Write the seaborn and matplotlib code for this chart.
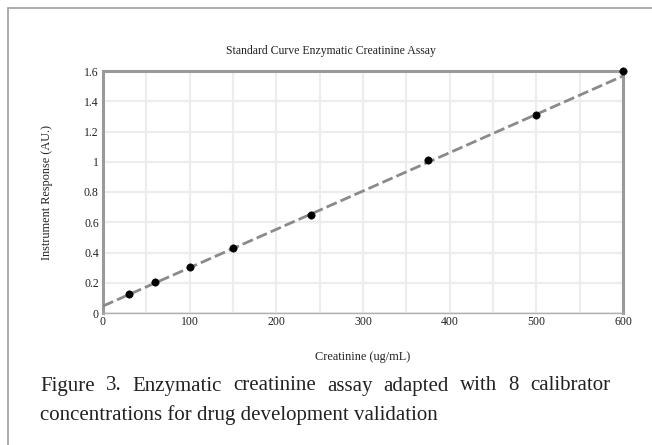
import numpy as np
import pandas as pd
import matplotlib
matplotlib.use("Agg")
import matplotlib.pyplot as plt
import seaborn as sns
from matplotlib.lines import Line2D
from matplotlib.ticker import MultipleLocator

# Data
concentration = [30, 60, 100, 150, 240, 375, 500, 600]
response = [0.125, 0.205, 0.305, 0.43, 0.645, 1.01, 1.31, 1.60]
fit_intercept = 0.046
fit_slope = 0.002535
x_ticks = [0, 100, 200, 300, 400, 500, 600]
y_ticks = [0, 0.2, 0.4, 0.6, 0.8, 1.0, 1.2, 1.4, 1.6]
y_tick_labels = ["0", "0.2", "0.4", "0.6", "0.8", "1", "1.2", "1.4", "1.6"]

df = pd.DataFrame({"x": concentration, "y": response})
fit_x = [0, 600]
fit_df = pd.DataFrame({"x": fit_x, "y": [fit_intercept + fit_slope * v for v in fit_x]})

sns.set_style("white")
plt.rcParams["font.family"] = ["Liberation Serif", "DejaVu Serif"]

W, H = 652, 445
fig = plt.figure(figsize=(W / 100, H / 100), dpi=100)
ax = fig.add_axes([103 / W, 1 - 313 / H, (623 - 103) / W, (313 - 71) / H])

sns.lineplot(data=fit_df, x="x", y="y", ax=ax, color="#8a8a8a", lw=2,
             linestyle=(0, (4, 1.5)), zorder=3)
sns.scatterplot(data=df, x="x", y="y", ax=ax, color="black", s=28,
                edgecolor="black", zorder=4, clip_on=False)

ax.set_xlim(0, 600)
ax.set_ylim(0, 1.6)
ax.set_xticks(x_ticks)
ax.set_yticks(y_ticks)
ax.set_yticklabels(y_tick_labels)
ax.xaxis.set_minor_locator(MultipleLocator(50))
ax.yaxis.set_minor_locator(MultipleLocator(0.2))
ax.grid(which="both", color="#ededed", lw=1.6)
ax.set_axisbelow(True)
ax.tick_params(axis="both", which="both", length=0, labelsize=8.5, colors="#222222")
ax.tick_params(axis="x", pad=2)
ax.tick_params(axis="y", pad=3)

for side in ["top", "right", "left"]:
    ax.spines[side].set_color("#9a9a9a")
    ax.spines[side].set_linewidth(2.2)
ax.spines["bottom"].set_color("#b0b0b0")
ax.spines["bottom"].set_linewidth(1.0)

ax.set_title("Standard Curve Enzymatic Creatinine Assay", fontsize=8.5, pad=12,
             color="#222222", x=(331 - 103) / 520)
ax.set_xlabel("Creatinine (ug/mL)", fontsize=8.8, labelpad=17, color="#222222")
ax.set_ylabel("Instrument Response (AU.)", fontsize=8.8, labelpad=22, color="#222222")

# Caption: first line justified between x=40 and x=610
cap_size = 15
line1 = "Figure 3. Enzymatic creatinine assay adapted with 8 calibrator".split(" ")
line2 = "concentrations for drug development validation"
renderer = fig.canvas.get_renderer()
word_artists = []
widths = []
for w in line1:
    t = fig.text(0, 1 - 386 / H, w, fontsize=cap_size, va="center", ha="left", color="#222222")
    bb = t.get_window_extent(renderer=renderer)
    word_artists.append(t)
    widths.append(bb.width)
x0, x1 = 40, 610
gap = (x1 - x0 - sum(widths)) / (len(line1) - 1)
xpos = x0
for t, wd in zip(word_artists, widths):
    t.set_x(xpos / W)
    xpos += wd + gap
fig.text(40 / W, 1 - 415 / H, line2, fontsize=cap_size, va="center", ha="left", color="#222222")

fig.add_artist(Line2D([8 / W, 8 / W], [0, 1 - 8 / H], transform=fig.transFigure,
                      color="#a0a0a0", lw=1.2))
fig.add_artist(Line2D([8 / W, 1], [1 - 8 / H, 1 - 8 / H], transform=fig.transFigure,
                      color="#a0a0a0", lw=1.2))

fig.savefig("out.png", dpi=100)
